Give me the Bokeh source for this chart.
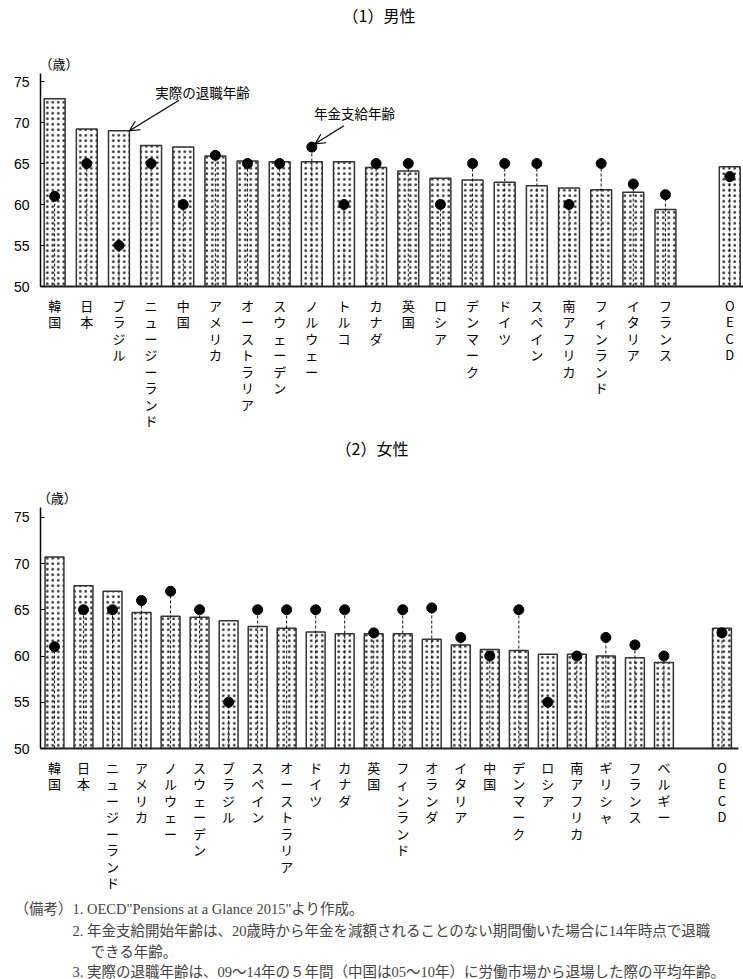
from bokeh.plotting import figure
from bokeh.layouts import column
from bokeh.models import FixedTicker, Title, Label, Arrow, OpenHead, Range1d
from bokeh.embed import file_html
from bokeh.resources import INLINE

# ---------------- data ----------------
male_countries = ["韓国", "日本", "ブラジル", "ニュージーランド", "中国", "アメリカ",
                  "オーストラリア", "スウェーデン", "ノルウェー", "トルコ", "カナダ", "英国",
                  "ロシア", "デンマーク", "ドイツ", "スペイン", "南アフリカ", "フィンランド",
                  "イタリア", "フランス", "OECD"]
male_actual = [72.9, 69.2, 69.0, 67.2, 67.0, 65.9, 65.3, 65.2, 65.2, 65.2, 64.5, 64.1,
               63.2, 63.0, 62.7, 62.3, 62.0, 61.8, 61.5, 59.4, 64.6]
male_pension = [61, 65, 55, 65, 60, 66, 65, 65, 67, 60, 65, 65,
                60, 65, 65, 65, 60, 65, 62.5, 61.2, 63.4]

female_countries = ["韓国", "日本", "ニュージーランド", "アメリカ", "ノルウェー", "スウェーデン",
                    "ブラジル", "スペイン", "オーストラリア", "ドイツ", "カナダ", "英国",
                    "フィンランド", "オランダ", "イタリア", "中国", "デンマーク", "ロシア",
                    "南アフリカ", "ギリシャ", "フランス", "ベルギー", "OECD"]
female_actual = [70.7, 67.6, 67.0, 64.7, 64.3, 64.2, 63.8, 63.2, 63.0, 62.6, 62.4, 62.4,
                 62.4, 61.8, 61.2, 60.7, 60.6, 60.2, 60.2, 60.0, 59.8, 59.3, 63.0]
female_pension = [61, 65, 65, 66, 67, 65, 55, 65, 65, 65, 65, 62.5,
                  65, 65.2, 62, 60, 65, 55, 60, 62, 61.2, 60, 62.5]

y_ticks = [50, 55, 60, 65, 70, 75]
unit_label = "（歳）"
title_male = "（1）男性"
title_female = "（2）女性"
label_actual = "実際の退職年齢"
label_pension = "年金支給年齢"
notes = [
    "（備考）1.  OECD\"Pensions at a Glance 2015\"より作成。",
    "2.  年金支給開始年齢は、20歳時から年金を減額されることのない期間働いた場合に14年時点で退職",
    "できる年齢。",
    "3.  実際の退職年齢は、09～14年の５年間（中国は05～10年）に労働市場から退場した際の平均年齢。",
]

JP = "Noto Sans CJK JP"
NUM = "Liberation Sans Narrow, Liberation Sans, sans-serif"
SERIF = "Liberation Serif, Noto Sans CJK JP"
BAR_W = 0.65


def positions(cats):
    # countries side by side, one empty slot before OECD
    return list(range(len(cats) - 1)) + [len(cats)]


def make_chart(cats, actual, pension, frame_left, frame_width, frame_height,
               x_range, y_end, axis_top, bottom_border):
    xs = positions(cats)
    p = figure(width=frame_left + frame_width + 5, frame_width=frame_width,
               frame_height=frame_height, x_range=Range1d(*x_range),
               y_range=Range1d(50, y_end), output_backend="svg",
               toolbar_location=None, title=None, min_border=0,
               min_border_left=frame_left, min_border_right=5,
               min_border_bottom=bottom_border, min_border_top=0)
    p.outline_line_color = None
    p.xgrid.visible = False
    p.ygrid.visible = False

    p.vbar(x=xs, top=actual, bottom=50, width=BAR_W, fill_color="white",
           line_color="#333333", line_width=1.5, hatch_pattern="dot",
           hatch_color="#333333", hatch_scale=5.5, hatch_weight=0.6)
    p.segment(x0=xs, y0=[50] * len(xs), x1=xs, y1=pension, line_color="#111111",
              line_width=1, line_dash="3 2")
    p.scatter(x=xs, y=pension, size=10, fill_color="black", line_color="black")

    ya = p.yaxis[0]
    ya.bounds = (50, axis_top)
    ya.ticker = FixedTicker(ticks=y_ticks)
    ya.minor_tick_line_color = None
    ya.major_tick_in = 4
    ya.major_tick_out = 0
    ya.axis_line_width = 1.5
    ya.axis_line_color = "black"
    ya.major_tick_line_color = "black"
    ya.major_label_standoff = 11
    ya.major_label_text_font = NUM
    ya.major_label_text_font_size = "14px"
    ya.major_label_text_color = "black"

    xa = p.xaxis[0]
    xa.ticker = FixedTicker(ticks=xs)
    xa.major_label_overrides = {x: "\n".join(list(c)) for x, c in zip(xs, cats)}
    xa.minor_tick_line_color = None
    xa.major_tick_line_color = None
    xa.major_tick_in = 0
    xa.major_tick_out = 0
    xa.axis_line_width = 2
    xa.axis_line_color = "#222222"
    xa.major_label_standoff = 9
    xa.major_label_text_font = JP
    xa.major_label_text_font_size = "13px"
    xa.major_label_text_line_height = 0.87
    xa.major_label_text_color = "black"
    return p, xs


def add_text(p, x, y, text, size="13px", align="left", font=JP):
    p.add_layout(Label(x=x, y=y, text=text, text_font=font, text_font_size=size,
                       text_align=align, text_baseline="middle", text_color="black"))


# ---------------- male ----------------
# frame spans from page top (y=0) to the baseline at y=286 ; 8.2 px per year
p1, xs1 = make_chart(male_countries, male_actual, male_pension, frame_left=33,
                     frame_width=705, frame_height=286, x_range=(-0.44, 21.49),
                     y_end=50 + 286 / 8.2, axis_top=76, bottom_border=148)
add_text(p1, 10.09, 83.05, title_male, size="16px", align="center")
add_text(p1, -0.47, 77.2, unit_label)

i_br = male_countries.index("ブラジル")
i_no = male_countries.index("ノルウェー")
add_text(p1, xs1[i_br] + 1.13, 73.7, label_actual, size="13.5px")
p1.add_layout(Arrow(end=OpenHead(size=10, line_width=1.2, line_color="black"),
                    x_start=xs1[i_br] + 1.87, y_start=72.7,
                    x_end=xs1[i_br] + BAR_W / 2, y_end=male_actual[i_br],
                    line_width=1.2, line_color="black"))
add_text(p1, xs1[i_no] + 0.07, 71.1, label_pension, size="13.5px")
p1.add_layout(Arrow(end=OpenHead(size=10, line_width=1.2, line_color="black"),
                    x_start=xs1[i_no] + 1.0, y_start=69.6,
                    x_end=xs1[i_no] + 0.1, y_end=male_pension[i_no] + 0.4,
                    line_width=1.2, line_color="black"))

# ---------------- female ----------------
# frame spans from y=434 to the baseline at y=748 ; 9.25 px per year
p2, xs2 = make_chart(female_countries, female_actual, female_pension, frame_left=40,
                     frame_width=698, frame_height=314, x_range=(-0.482, 23.57),
                     y_end=50 + 314 / 9.25, axis_top=76.1, bottom_border=231)
add_text(p2, 10.94, 82.54, title_female, size="16px", align="center")
add_text(p2, -0.58, 77.14, unit_label)

note_offsets = [-26, 32, 50, 32]
note_standoffs = [6, 2.5, 2, 2.5]
for txt, off, so in zip(notes, note_offsets, note_standoffs):
    p2.add_layout(Title(text=txt, align="left", offset=off, text_font=SERIF,
                        text_font_size="14.5px", text_font_style="normal", standoff=so),
                  "below")

layout = column(p1, p2, spacing=0)
open("out.html", "w").write(file_html(layout, INLINE))
